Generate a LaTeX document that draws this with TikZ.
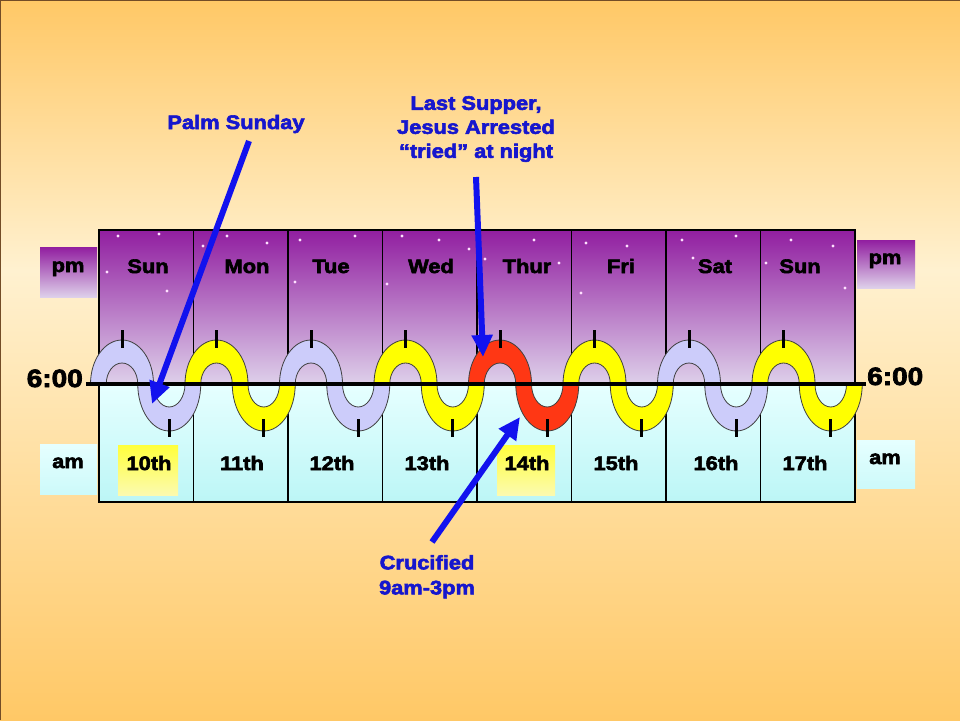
\documentclass[tikz,border=0pt]{standalone}
\usepackage{fontspec}
\usepackage{tikz}
\usetikzlibrary{arrows.meta,positioning}
\newfontfamily\heavy[FakeBold=3,FakeStretch=1.12]{Liberation Sans Bold}
\definecolor{bgorange}{RGB}{255,200,102}
\definecolor{bglight}{RGB}{255,241,208}
\definecolor{nighttop}{RGB}{145,30,160}
\definecolor{nightlow}{RGB}{222,208,234}
\definecolor{daytop}{RGB}{230,255,255}
\definecolor{daylow}{RGB}{188,246,246}
\definecolor{archlav}{RGB}{204,204,250}
\definecolor{archyel}{RGB}{255,255,0}
\definecolor{archred}{RGB}{255,55,20}
\definecolor{hitop}{RGB}{255,255,60}
\definecolor{hilow}{RGB}{252,250,175}
\definecolor{noteblue}{RGB}{22,22,205}
\definecolor{arrowblue}{RGB}{18,18,238}
\definecolor{star}{RGB}{255,225,255}

\begin{document}
\begin{tikzpicture}[x=1pt,y=-1pt,% pixel units, y runs downwards
		every node/.style={
			inner sep=0pt,		% text sits exactly where it is put
			font=\heavy\fontsize{19.5}{24}\selectfont
		},
		day/.style={anchor=base},
		note/.style={text=noteblue,align=center},
		pointer/.style={draw=arrowblue,line width=6pt,-{Triangle[length=22pt,width=20pt]}},
		tick/.style={line width=3pt},
		arch/.style={draw=black!75,line width=0.8pt,even odd rule}
	]
	\useasboundingbox (0,0) rectangle (960,720);
	% background
	\shade[top color=bgorange,bottom color=bglight] (0,0) rectangle (960,270);
	\shade[top color=bglight,bottom color=bgorange] (0,270) rectangle (960,720);
	\draw[brown!60!black,line width=1pt] (0,720) -- (0,0) -- (960,0);

	% night and day halves of the week
	\shade[top color=nighttop,bottom color=nightlow] (99,230) rectangle (855,384);
	\shade[top color=daytop,bottom color=daylow] (99,384) rectangle (855,502);
	\foreach \x/\y in {118/236,159/234,107/272,167/291,203/246,227/236,267/243,300/240,295/282,
		355/236,402/236,439/240,469/249,387/284,485/259,534/240,559/263,586/243,581/293,
		627/246,682/240,736/236,693/258,791/240,833/246,766/263,845/288}
		\fill[star] (\x,\y) circle[radius=1.6];
	\foreach \k in {1,...,7}
		\draw[line width=1.2pt] (99+94.5*\k,230) -- (99+94.5*\k,502);
	\draw[line width=2pt] (99,230) rectangle (855,502);

	% pm / am boxes and highlighted dates
	\shade[top color=nighttop,bottom color=nightlow] (40,247) rectangle (97,297);
	\shade[top color=nighttop,bottom color=nightlow] (857,240) rectangle (915,288);
	\shade[top color=daytop,bottom color=daylow!60!daytop] (40,444) rectangle (97,494);
	\shade[top color=daytop,bottom color=daylow!60!daytop] (857,440) rectangle (915,488);
	\shade[top color=hitop,bottom color=hilow] (118,445) rectangle (178,495);
	\shade[top color=hitop,bottom color=hilow] (497,445) rectangle (555,495);

	% the wave, one period a day
	\foreach \col [count=\i from 0] in {archlav,archyel,archlav,archyel,archred,archyel,archlav,archyel}{
		\pgfmathsetmacro\xu{122+94.5*\i}
		\pgfmathsetmacro\xd{\xu+47.25}
		\begin{scope}
			\clip (\xu-36,330) rectangle (\xu+36,384);
			\fill[arch,fill=\col] (\xu,384) ellipse[x radius=31.5,y radius=44]
				(\xu,384) ellipse[x radius=15.75,y radius=21];
		\end{scope}
		\begin{scope}
			\clip (\xd-36,384) rectangle (\xd+36,440);
			\fill[arch,fill=\col] (\xd,384) ellipse[x radius=31.5,y radius=47]
				(\xd,384) ellipse[x radius=15.75,y radius=23];
		\end{scope}
		\draw[tick] (\xu,330) -- (\xu,348);
		\draw[tick] (\xd,419) -- (\xd,437);
	}
	\coordinate (axL) at (86,384);
	\coordinate (axR) at (866,384);
	\draw[line width=4pt] (axL) -- (axR);

	% texts
	\node[anchor=base east,font=\heavy\fontsize{25}{30}\selectfont] (sixL) at (83,387) {6:00};
	\node[anchor=base west,font=\heavy\fontsize{25}{30}\selectfont] (sixR) at (867,385) {6:00};
	\node[day] (pmL) at (68,272) {pm};
	\node[day] (pmR) at (885,264) {pm};
	\node[day] (amL) at (68,468) {am};
	\node[day] (amR) at (885,464) {am};
	\foreach \name/\x [count=\k] in {Sun/148,Mon/247,Tue/331,Wed/431,Thur/527,Fri/621,Sat/715,Sun/800}
		\node[day] (day\k) at (\x,273) {\name};
	\foreach \d/\x [count=\k] in {10th/149,11th/242,12th/332,13th/427,14th/527,15th/616,16th/716,17th/805}
		\node[day] (date\k) at (\x,470) {\d};

	% notes and pointers
	\node[note,anchor=base] (palm) at (236,129) {Palm Sunday};
	\node[note,anchor=north] (supper) at (476,96) {Last Supper,\\ Jesus Arrested\\ “tried” at night};
	\node[note,anchor=north,font=\heavy\fontsize{19.5}{25}\selectfont] (cross) at (427,555) {Crucified\\ 9am-3pm};
	\coordinate (palmFrom) at (249,141);
	\coordinate (palmTo) at (152,404);
	\coordinate (supperFrom) at (476,177);
	\coordinate (supperTo) at (483,357);
	\coordinate (crossFrom) at (432,542);
	\coordinate (crossTo) at (520,417);
	\path
		(palmFrom) edge[pointer] (palmTo)
		(supperFrom) edge[pointer] (supperTo)
		(crossFrom) edge[pointer] (crossTo)
		;
\end{tikzpicture}
\end{document}
